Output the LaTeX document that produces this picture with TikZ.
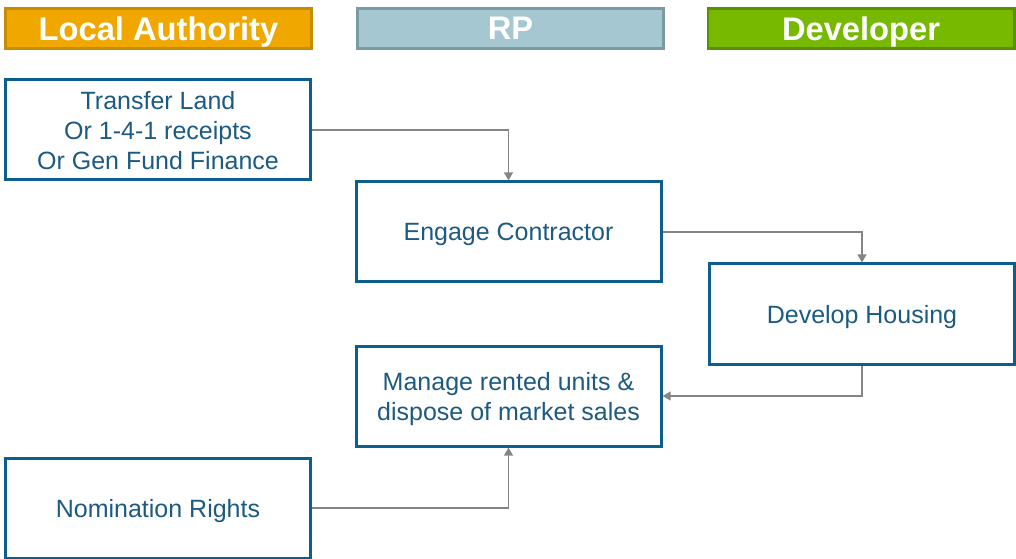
\documentclass[tikz,border=0pt]{standalone}
\usepackage{fontspec}
\setmainfont{Liberation Sans}
\usepackage{xcolor}
\usetikzlibrary{arrows.meta,positioning}

\definecolor{laorange}{HTML}{F0A800}
\definecolor{laedge}{HTML}{C48E00}
\definecolor{rpblue}{HTML}{A4C7D1}
\definecolor{rpedge}{HTML}{7A9BA2}
\definecolor{devgreen}{HTML}{76B900}
\definecolor{devedge}{HTML}{5A9000}
\definecolor{boxedge}{HTML}{0C5E8C}
\definecolor{boxtext}{HTML}{1C5A82}
\definecolor{linkgray}{HTML}{858585}

\begin{document}
\begin{tikzpicture}[
    x=0.75pt, y=-0.75pt,
    header/.style={rectangle, draw, line width=2pt, inner sep=0pt, minimum width=229.75pt, minimum height=30.25pt,
        text depth=0pt, text=white, font=\fontsize{24.5}{26}\selectfont\bfseries},
    box/.style={rectangle, draw=boxedge, line width=2.25pt, inner sep=0pt, minimum width=228.75pt, minimum height=75pt,
        text depth=0pt, text=boxtext, align=center, font=\fontsize{18.75}{22.5}\selectfont},
    arrow/.style={-{Triangle[length=6pt,width=6.5pt]}, draw=linkgray, line width=1.4pt}
]
    \useasboundingbox (0,0) rectangle (1016,559);

    % Column headers
    \node[header, fill=laorange, draw=laedge] (la) at (158.5,28.5) {Local Authority};
    \node[header, fill=rpblue, draw=rpedge] (rp) at (510.5,28.5) {RP};
    \node[header, fill=devgreen, draw=devedge] (dev) at (861,28.5) {Developer};

    % Local Authority steps
    \node[box] (transfer) at (158,130) {Transfer Land\\Or 1-4-1 receipts\\Or Gen Fund Finance};
    \node[box] (nomination) at (158,508) {Nomination Rights};

    % RP steps
    \node[box] (engage) at (508.5,232) {Engage Contractor};
    \node[box] (manage) at (508.5,396) {Manage rented units \&\\dispose of market sales};

    % Developer step
    \node[box] (develop) at (862,314) {Develop Housing};

    % Arrows
    \draw[arrow] (transfer.east) -| (engage.north);
    \draw[arrow] (engage.east) -| (develop.north);
    \draw[arrow] (develop.south) |- (manage.east);
    \draw[arrow] (nomination.east) -| (manage.south);

\end{tikzpicture}
\end{document}
